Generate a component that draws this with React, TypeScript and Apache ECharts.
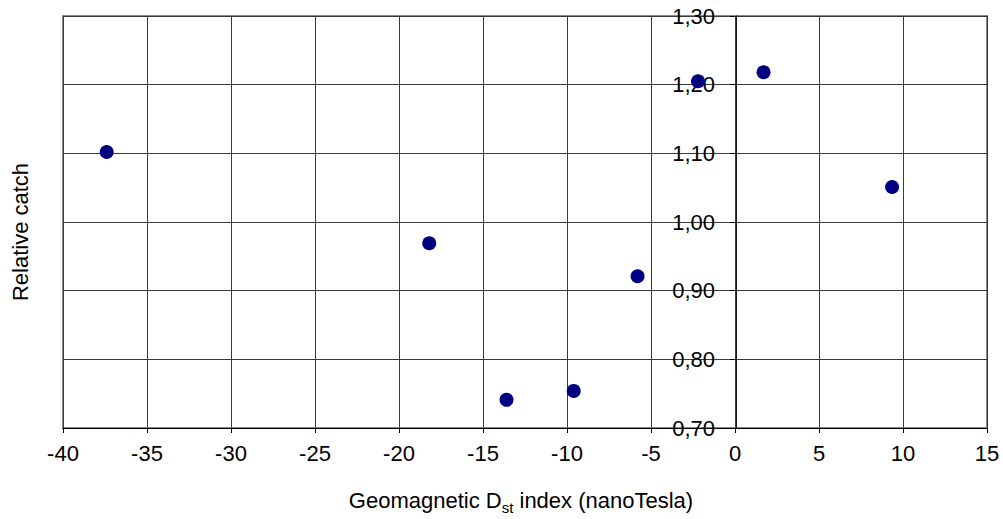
import React, { useEffect, useRef } from "react";
import * as echarts from "echarts";

// Geomagnetic Dst index (nT) and the relative catch observed at each level
const dstIndex = [-37.4, -18.2, -13.6, -9.6, -5.8, -2.2, 1.7, 9.35];
const relativeCatch = [1.102, 0.969, 0.741, 0.754, 0.921, 1.205, 1.218, 1.051];

const xTicks = { min: -40, max: 15, interval: 5 };
const yTicks = { min: 0.7, max: 1.3, interval: 0.1 };

const FONT = "Liberation Sans, Arial, sans-serif";
const GRID_LEFT = 63;

export default function App() {
  const ref = useRef<HTMLDivElement>(null);

  useEffect(() => {
    if (!ref.current) return;
    const chart = echarts.init(ref.current, undefined, { renderer: "svg" });
    const points = dstIndex.map((x, i) => [x, relativeCatch[i]]);

    chart.setOption({
      animation: false,
      backgroundColor: "#ffffff",
      grid: {
        left: GRID_LEFT,
        right: 16,
        top: 16,
        bottom: 91,
        show: true,
        borderColor: "#888888",
        borderWidth: 2,
      },
      xAxis: {
        type: "value",
        min: xTicks.min,
        max: xTicks.max,
        interval: xTicks.interval,
        axisLine: { onZero: false, lineStyle: { color: "#000000", width: 1 } },
        axisTick: { show: true, inside: false, length: 5, lineStyle: { color: "#000000" } },
        axisLabel: { color: "#000000", fontFamily: FONT, fontSize: 22, margin: 14 },
        splitLine: { show: true, lineStyle: { color: "#3a3a3a", width: 1 } },
      },
      yAxis: {
        type: "value",
        min: yTicks.min,
        max: yTicks.max,
        interval: yTicks.interval,
        axisLine: { show: true, onZero: true, lineStyle: { color: "#1a1a1a", width: 1 } },
        axisTick: { show: true, inside: false, length: 6, lineStyle: { color: "#000000" } },
        axisLabel: {
          color: "#000000",
          fontFamily: FONT,
          fontSize: 22,
          margin: 21,
          formatter: (v: number) => v.toFixed(2).replace(".", ","),
        },
        splitLine: { show: true, lineStyle: { color: "#3a3a3a", width: 1 } },
      },
      series: [
        {
          type: "scatter",
          data: points,
          symbol: "circle",
          symbolSize: 14,
          itemStyle: { color: "#000080", opacity: 1 },
          z: 5,
        },
      ],
      graphic: [
        {
          type: "text",
          x: 20,
          y: 232,
          rotation: Math.PI / 2,
          style: {
            text: "Relative catch",
            font: `22px ${FONT}`,
            fill: "#000000",
            align: "center",
            verticalAlign: "middle",
          },
        },
        {
          type: "text",
          x: 521,
          y: 500,
          style: {
            text: "{n|Geomagnetic D}{s|st}{n| index (nanoTesla)}",
            align: "center",
            verticalAlign: "middle",
            rich: {
              n: { font: `22px ${FONT}`, fill: "#000000", verticalAlign: "bottom" },
              s: { font: `15px ${FONT}`, fill: "#000000", verticalAlign: "bottom", padding: [0, 0, -4, 0] },
            },
          },
        },
      ],
    });

    // Put the value axis on x = 0, found through the x scale
    const zeroPx = chart.convertToPixel({ xAxisIndex: 0 }, 0) as number;
    chart.setOption({ yAxis: { offset: -(zeroPx - GRID_LEFT) } });

    return () => chart.dispose();
  }, []);

  return (
    <div
      ref={ref}
      style={{ position: "absolute", left: 0, top: 0, width: 1003, height: 519 }}
    />
  );
}
